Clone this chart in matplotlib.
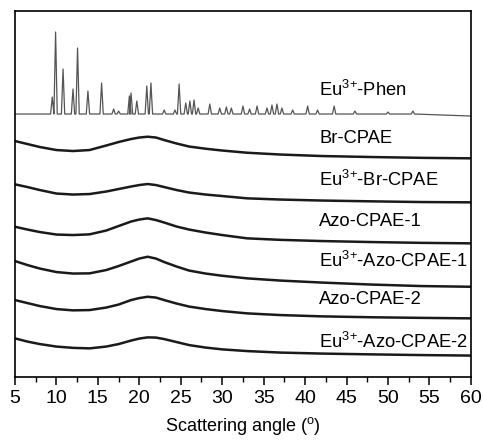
import numpy as np
import matplotlib
matplotlib.use('Agg')
import matplotlib.pyplot as plt
from matplotlib import rcParams

rcParams.update({"font.family": ['Liberation Sans', 'DejaVu Sans'], "font.size": 14,
                 "mathtext.fontset": 'custom', "mathtext.rm": 'Liberation Sans'})

# Eu3+-Phen: crystalline pattern, peak positions (deg) and heights (a.u.)
phen_base = 263
phen_pos = [9.5, 9.9, 10.8, 12.0, 12.55, 13.8, 15.45, 16.9, 17.5, 18.8, 19.0, 19.7,
            20.9, 21.4, 23.0, 24.3, 24.8, 25.6, 26.1, 26.6, 27.1, 28.5, 29.7, 30.5,
            31.1, 32.5, 33.3, 34.2, 35.4, 36.0, 36.6, 37.2, 38.5, 40.3, 41.5, 43.5,
            46.0, 50.0, 53.0]
phen_h = [17, 82, 45, 25, 66, 23, 31, 5, 3, 18, 21, 13,
          28, 31, 4, 4, 30, 11, 13, 14, 6, 10, 6, 7,
          6, 8, 5, 8, 6, 9, 10, 6, 4, 8, 4, 8,
          3, 2, 3]

# amorphous samples, stacked intensity (a.u.)
angle = [5, 6.5, 8, 10, 12, 14, 16, 17.5, 19, 20, 21, 22, 23, 24.5, 26, 28, 30,
         33, 37, 42, 48, 54, 60]
br_cpae = [236, 233, 230, 227, 226, 227, 231.5, 235, 238, 239.5, 240.3, 239.5, 237,
           233.5, 230.5, 228.3, 226.5, 224.3, 222.5, 221, 220, 219.2, 218.7]
eu_br_cpae = [192.7, 190, 187, 183.5, 182.5, 183, 185.5, 188, 190.5, 192, 193, 192, 190,
              187, 184.5, 182.5, 181, 178.7, 177.5, 176.5, 175.7, 175, 174.7]
azo_cpae_1 = [150.3, 147.5, 145, 142.5, 142, 142.7, 146.5, 151, 155.5, 157.5, 158.7, 157,
              154.5, 150.5, 147.5, 144.5, 142, 138.7, 137.2, 136, 135, 134.2, 133.7]
eu_azo_cpae_1 = [116, 112, 108.5, 105, 103.5, 103.7, 107, 111, 115.5, 118.5, 120.3, 118.5,
                 115, 110.5, 106.5, 103.5, 101.3, 98.7, 96.5, 94.5, 92.5, 91, 90.3]
azo_cpae_2 = [77, 74, 71, 68, 66.7, 67, 69.5, 72.5, 77, 79, 80.3, 79.5, 77, 73.5, 70.5,
              68, 66, 63.7, 62, 60.7, 59.8, 59.2, 58.7]
eu_azo_cpae_2 = [38.7, 35.5, 33, 30.5, 29.2, 28.7, 30.5, 33, 36.5, 38.5, 39.7, 39.5, 38,
                 35, 32, 29.5, 27.7, 26, 24.5, 23.5, 22.7, 22, 21.5]

labels = [r'Eu$^{3\!+}\!$-Phen', 'Br-CPAE', r'Eu$^{3\!+}\!$-Br-CPAE', 'Azo-CPAE-1',
          r'Eu$^{3\!+}\!$-Azo-CPAE-1', 'Azo-CPAE-2', r'Eu$^{3\!+}\!$-Azo-CPAE-2']
label_y = [287, 239, 197, 156, 116, 78, 35]

# build stick-like peaks for the crystalline pattern
px = [5.0]
py = [phen_base]
for p, h in zip(phen_pos, phen_h):
    px += [p - 0.2, p, p + 0.2]
    py += [phen_base, phen_base + h, phen_base]
px.append(60.0)
py.append(phen_base - 2)

fig = plt.figure(figsize=(4.83, 4.40), dpi=100)
ax = fig.add_axes([0.031, 0.143, 0.944, 0.832])
ax.plot(px, py, color='#555555', lw=0.9)
for ys in [br_cpae, eu_br_cpae, azo_cpae_1, eu_azo_cpae_1, azo_cpae_2, eu_azo_cpae_2]:
    ax.plot(angle, ys, color='#1a1a1a', lw=1.8)
for lab, yy in zip(labels, label_y):
    ax.text(41.7, yy, lab, fontsize=13.2, va='center', ha='left')

ax.set_xlim(5, 60)
ax.set_ylim(0, 366)
ax.set_xticks(np.arange(5, 61, 5))
ax.set_xticks(np.arange(7.5, 60, 5), minor=True)
ax.set_yticks([])
ax.tick_params(axis='x', direction='out', length=6, width=1.1, labelsize=14, pad=3)
ax.tick_params(axis='x', which='minor', direction='out', length=3.5, width=1.0)
for s in ax.spines.values():
    s.set_linewidth(1.2)
ax.set_xlabel(r'Scattering angle ($^{\rm o}$)', fontsize=13, labelpad=6)
fig.savefig('out.png', dpi=100)
